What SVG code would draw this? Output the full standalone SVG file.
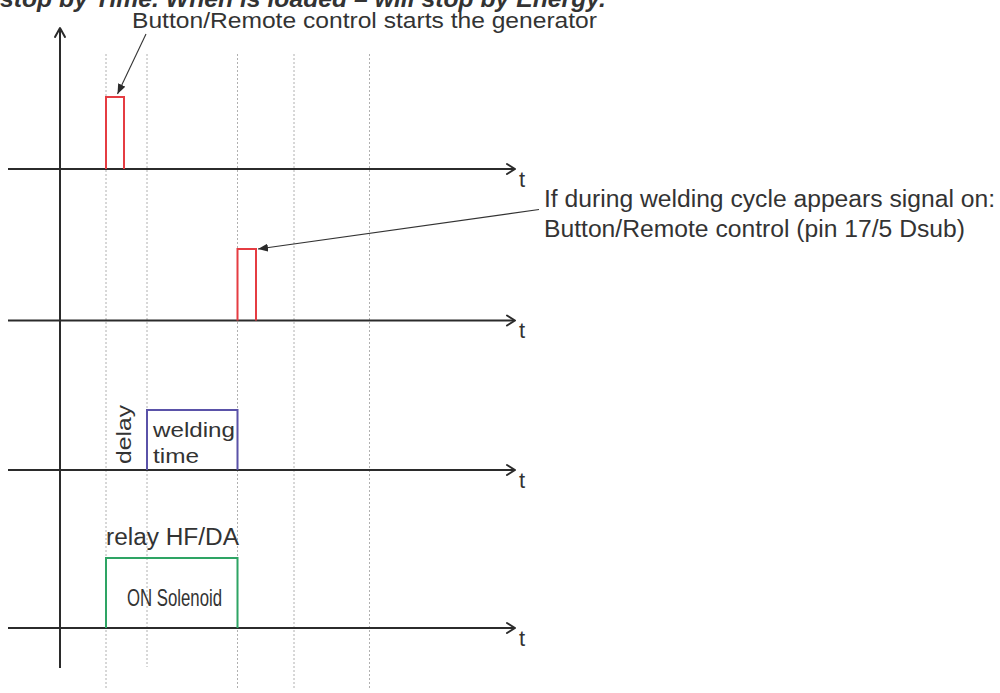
<svg xmlns="http://www.w3.org/2000/svg" width="1000" height="693" viewBox="0 0 1000 693">
  <style>
    .txt { font-family: "Liberation Sans", Arial, sans-serif; fill: #333; }
    .axis { stroke: #2b2b2b; stroke-width: 2; fill: none; }
    .head { stroke: #2b2b2b; stroke-width: 2; fill: none; stroke-linecap: round; stroke-linejoin: round; }
    .grid { stroke: #b0b0b0; stroke-width: 1; stroke-dasharray: 2 2; fill: none; }
    .lead { stroke: #333; stroke-width: 1.1; fill: none; }
    .pulse-red { stroke: #e53c42; stroke-width: 2; fill: none; }
    .pulse-blue { stroke: #5a52a8; stroke-width: 2; fill: none; }
    .pulse-green { stroke: #2ea464; stroke-width: 2; fill: none; }
  </style>
  <defs>
    <marker id="tri" viewBox="0 0 10 8" refX="10" refY="4" markerWidth="10" markerHeight="8" markerUnits="userSpaceOnUse" orient="auto">
      <path d="M0,0 L10,4 L0,8 Z" fill="#2b2b2b"/>
    </marker>
  </defs>

  <rect width="1000" height="693" fill="#ffffff"/>

  <!-- heading, clipped at the top edge -->
  <text class="txt" x="0" y="7" font-size="23" font-weight="bold" font-style="italic" textLength="606" lengthAdjust="spacingAndGlyphs">stop by Time. When is loaded – will stop by Energy.</text>

  <!-- dotted time markers -->
  <g id="grid">
    <line class="grid" x1="106" y1="54" x2="106" y2="688"/>
    <line class="grid" x1="147" y1="54" x2="147" y2="667"/>
    <line class="grid" x1="237.5" y1="54" x2="237.5" y2="690"/>
    <line class="grid" x1="294" y1="54" x2="294" y2="690"/>
    <line class="grid" x1="369.5" y1="54" x2="369.5" y2="690"/>
  </g>

  <!-- axes -->
  <g id="axes">
    <line class="axis" x1="60" y1="28" x2="60" y2="668"/>
    <path class="head" d="M55,37 L60,28 L65,37"/>

    <line class="axis" x1="8" y1="169" x2="514" y2="169"/>
    <path class="head" d="M507,164 L515,169 L507,174"/>
    <text class="txt" x="519" y="187" font-size="22">t</text>

    <line class="axis" x1="8" y1="320.5" x2="514" y2="320.5"/>
    <path class="head" d="M507,315.5 L515,320.5 L507,325.5"/>
    <text class="txt" x="519" y="338" font-size="22">t</text>

    <line class="axis" x1="8" y1="470" x2="514" y2="470"/>
    <path class="head" d="M507,465 L515,470 L507,475"/>
    <text class="txt" x="519" y="488" font-size="22">t</text>

    <line class="axis" x1="8" y1="628" x2="514" y2="628"/>
    <path class="head" d="M507,623 L515,628 L507,633"/>
    <text class="txt" x="519" y="646" font-size="22">t</text>
  </g>

  <!-- start pulse -->
  <g id="start-pulse">
    <path class="pulse-red" d="M106,169 V97 H124 V169"/>
  </g>

  <!-- stop pulse during welding -->
  <g id="stop-pulse">
    <path class="pulse-red" d="M237.5,320.5 V249 H256 V320.5"/>
  </g>

  <!-- delay and welding time -->
  <g id="welding-time">
    <path class="pulse-blue" d="M147,470 V410 H237.5 V470"/>
    <text class="txt" transform="translate(131,464) rotate(-90)" font-size="21" textLength="59" lengthAdjust="spacingAndGlyphs">delay</text>
    <text class="txt" x="153" y="437" font-size="21" textLength="82" lengthAdjust="spacingAndGlyphs">welding</text>
    <text class="txt" x="153" y="463" font-size="21" textLength="46" lengthAdjust="spacingAndGlyphs">time</text>
  </g>

  <!-- relay output -->
  <g id="relay">
    <path class="pulse-green" d="M106,628 V558 H237.5 V628"/>
    <text class="txt" x="106" y="545" font-size="23" textLength="133" lengthAdjust="spacingAndGlyphs">relay HF/DA</text>
    <text class="txt" x="127" y="606" font-size="24" textLength="95" lengthAdjust="spacingAndGlyphs">ON Solenoid</text>
  </g>

  <!-- callouts -->
  <g id="callout-start">
    <text class="txt" x="132" y="28" font-size="22" textLength="465" lengthAdjust="spacingAndGlyphs">Button/Remote control starts the generator</text>
  </g>
  <g id="callout-stop">
    <text class="txt" x="544" y="207" font-size="23" textLength="451" lengthAdjust="spacingAndGlyphs">If during welding cycle appears signal on:</text>
    <text class="txt" x="544" y="237" font-size="23" textLength="421" lengthAdjust="spacingAndGlyphs">Button/Remote control (pin 17/5 Dsub)</text>
  </g>

  <!-- leader lines -->
  <g id="connectors">
    <line class="lead" x1="146" y1="34" x2="117.5" y2="94" marker-end="url(#tri)"/>
    <line class="lead" x1="539" y1="209.5" x2="258" y2="249" marker-end="url(#tri)"/>
  </g>
</svg>
